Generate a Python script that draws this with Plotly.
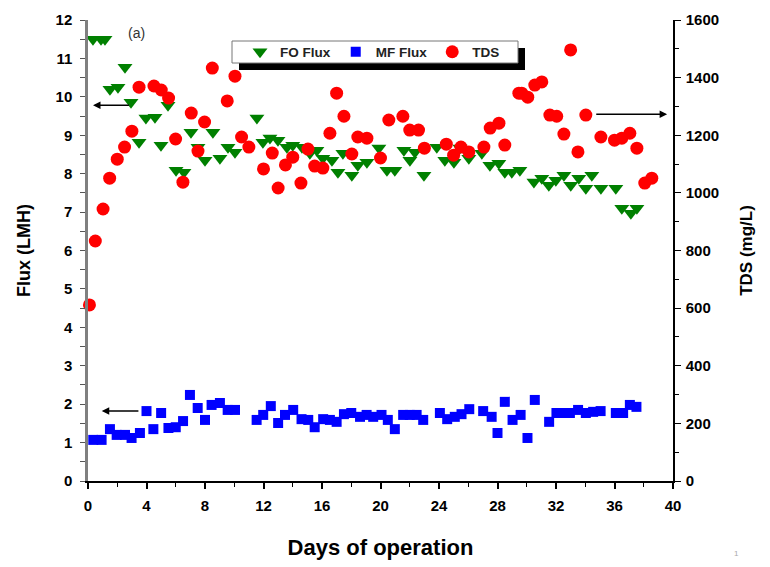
import plotly.graph_objects as go

# ---- data ----
fo_days = [0.34, 0.89, 1.16, 1.5, 2.05, 2.53, 2.94, 3.49, 3.96, 4.58, 4.99, 5.47, 6.02, 6.56,
           7.04, 7.52, 8.0, 8.54, 9.02, 9.57, 10.05, 11.55, 11.96, 12.44, 12.99, 13.6, 14.0,
           14.63, 15.17, 15.65, 16.06, 16.68, 17.09, 17.43, 18.04, 18.45, 19.07, 19.89, 20.44,
           20.98, 21.6, 22.01, 22.35, 22.97, 23.85, 24.4, 25.02, 25.43, 26.04, 26.93, 27.48,
           28.09, 28.5, 28.98, 29.53, 30.49, 31.03, 31.51, 31.99, 32.54, 33.01, 33.56, 34.04,
           34.45, 35.07, 36.09, 36.5, 37.12, 37.53]
fo_flux = [11.5, 11.5, 11.5, 10.2, 10.25, 10.77, 9.86, 8.82, 9.45, 9.47, 8.74, 9.78, 8.09, 8.04,
           9.08, 8.69, 8.35, 9.08, 8.4, 8.69, 8.56, 9.45, 8.82, 8.93, 8.87, 8.69, 8.74,
           8.69, 8.53, 8.61, 8.4, 8.35, 8.04, 8.53, 7.96, 8.22, 8.3, 8.67, 8.09,
           8.09, 8.61, 8.35, 8.56, 7.96, 8.69, 8.35, 8.3, 8.67, 8.4, 8.53, 8.22,
           8.27, 8.04, 8.04, 8.09, 7.78, 7.88, 7.7, 7.83, 7.96, 7.7, 7.88, 7.62,
           7.96, 7.62, 7.62, 7.1, 6.97, 7.1]

mf_days = [0.36, 0.93, 1.5, 1.96, 2.53, 2.98, 3.55, 4.0, 4.47, 5.0, 5.5, 6.0, 6.5, 6.97, 7.5,
           8.0, 8.45, 9.02, 9.55, 10.05, 11.53, 11.98, 12.5, 13.0, 13.47, 14.03, 14.6, 15.06,
           15.5, 16.08, 16.54, 17.0, 17.5, 18.0, 18.6, 19.05, 19.5, 20.07, 20.5, 20.98, 21.55,
           22.0, 22.47, 22.92, 24.06, 24.56, 25.08, 25.54, 26.07, 27.02, 27.6, 28.0, 28.5,
           29.03, 29.58, 30.05, 30.55, 31.53, 32.03, 32.49, 32.95, 33.51, 34.04, 34.54, 35.05,
           36.09, 36.59, 37.05, 37.5]
mf_flux = [1.07, 1.07, 1.35, 1.2, 1.2, 1.12, 1.25, 1.82, 1.35, 1.77, 1.38, 1.4, 1.56, 2.24, 1.9,
           1.59, 1.98, 2.03, 1.85, 1.85, 1.59, 1.72, 1.95, 1.51, 1.72, 1.85, 1.61, 1.59,
           1.4, 1.61, 1.59, 1.54, 1.74, 1.77, 1.67, 1.72, 1.67, 1.72, 1.59, 1.35, 1.72,
           1.72, 1.72, 1.59, 1.77, 1.61, 1.67, 1.74, 1.87, 1.82, 1.67, 1.25, 2.06,
           1.59, 1.72, 1.12, 2.11, 1.54, 1.77, 1.77, 1.77, 1.85, 1.77, 1.8, 1.82,
           1.77, 1.77, 1.98, 1.93]

tds_days = [0.1, 0.5, 1.03, 1.48, 2.0, 2.5, 3.0, 3.49, 4.51, 5.01, 5.51, 5.99, 6.49, 7.06, 7.52,
            7.97, 8.5, 9.52, 10.05, 10.5, 11.0, 12.0, 12.6, 13.0, 13.5, 14.0, 14.56, 15.04,
            15.5, 16.06, 16.54, 17.0, 17.5, 18.04, 18.45, 19.07, 20.0, 20.57, 21.53, 22.0,
            22.6, 23.0, 24.5, 25.0, 25.5, 26.04, 27.07, 27.5, 28.1, 28.5, 29.46, 29.66, 30.07,
            30.55, 31.03, 31.58, 32.05, 32.54, 33.0, 33.5, 34.04, 35.07, 36.0, 36.5, 37.05,
            37.53, 38.07, 38.55]
tds_vals = [611, 833, 944, 1051, 1117, 1159, 1214, 1367, 1371, 1357, 1329, 1187, 1037, 1277, 1145,
            1246, 1433, 1319, 1405, 1194, 1159, 1083, 1138, 1017, 1097, 1124, 1034, 1152,
            1093, 1086, 1207, 1346, 1266, 1135, 1194, 1190, 1121, 1253, 1266, 1218,
            1218, 1155, 1169, 1131, 1159, 1142, 1159, 1225, 1242, 1166, 1346, 1346, 1332,
            1374, 1385, 1270, 1266, 1204, 1496, 1142, 1270, 1194, 1183, 1190, 1207,
            1155, 1034, 1051]

x_ticks = [0, 4, 8, 12, 16, 20, 24, 28, 32, 36, 40]

FONT = "Liberation Sans, Arial, sans-serif"
tickfont = dict(family=FONT, size=15, color="black", weight="bold")

# page body has an 8px margin; plot area on screen: x 88..673, y 20..481
PL, PR, PT, PB = 88, 673, 20, 481


def px(x):
    return (x - PL) / (PR - PL)


def py(y):
    return (PB - y) / (PB - PT)


fig = go.Figure()
fig.add_trace(go.Scatter(x=fo_days, y=fo_flux, mode="markers", name="FO Flux",
                         marker=dict(symbol="triangle-down", size=13, color="#008000"),
                         cliponaxis=False))
fig.add_trace(go.Scatter(x=mf_days, y=mf_flux, mode="markers", name="MF Flux",
                         marker=dict(symbol="square", size=10, color="#0000ff"),
                         cliponaxis=False))
fig.add_trace(go.Scatter(x=tds_days, y=tds_vals, mode="markers", name="TDS", yaxis="y2",
                         marker=dict(symbol="circle", size=13, color="#ff0000"),
                         cliponaxis=False))

fig.update_layout(
    width=770, height=567,
    margin=dict(l=PL - 8, r=770 - (PR - 8), t=PT - 8, b=567 - (PB - 8), autoexpand=False),
    paper_bgcolor="white", plot_bgcolor="white",
    font=dict(family=FONT, color="black"),
    xaxis=dict(range=[0, 40], tickvals=x_ticks, showgrid=False, zeroline=False,
               showline=True, linecolor="black", linewidth=1.5, automargin=False,
               ticks="outside", ticklen=6, tickwidth=1.5, tickcolor="black",
               minor=dict(dtick=2, ticks="outside", ticklen=4, tickcolor="black", tickwidth=1),
               tickfont=tickfont, ticklabelstandoff=4,
               title=dict(text="Days of operation",
                          font=dict(family=FONT, size=22, color="black", weight="bold"),
                          standoff=27)),
    yaxis=dict(range=[0, 12], dtick=1, showgrid=False, zeroline=False,
               showline=True, linecolor="#808080", linewidth=2.5, automargin=False,
               ticks="outside", ticklen=5, tickwidth=1.2, tickcolor="#555555",
               minor=dict(dtick=0.5, ticks="outside", ticklen=5, tickcolor="#555555", tickwidth=1),
               tickfont=tickfont, ticklabelstandoff=5,
               title=dict(text="Flux (LMH)",
                          font=dict(family=FONT, size=18, color="black", weight="bold"),
                          standoff=21)),
    yaxis2=dict(range=[0, 1600], dtick=200, overlaying="y", side="right", showgrid=False,
                zeroline=False, showline=True, linecolor="black", linewidth=1.5,
                automargin=False,
                ticks="outside", ticklen=6, tickwidth=1.2, tickcolor="black",
                minor=dict(dtick=100, ticks="outside", ticklen=4, tickcolor="black", tickwidth=1),
                tickfont=tickfont, ticklabelstandoff=2,
                title=dict(text="TDS (mg/L)",
                           font=dict(family=FONT, size=17, color="black", weight="bold"),
                           standoff=22)),
    legend=dict(orientation="h", x=px(240), y=py(52), xanchor="left", yanchor="middle",
                bgcolor="rgba(0,0,0,0)", borderwidth=0,
                font=dict(family=FONT, size=13.5, color="#222222", weight="bold")),
    showlegend=True,
)

# legend box with drop shadow
fig.add_shape(type="rect", xref="paper", yref="paper",
              x0=px(239), x1=px(525), y0=py(70), y1=py(48),
              fillcolor="black", line=dict(width=0), layer="above")
fig.add_shape(type="rect", xref="paper", yref="paper",
              x0=px(232), x1=px(518), y0=py(63), y1=py(41),
              fillcolor="white", line=dict(width=1, color="#777777"), layer="above")

arrow = dict(showarrow=True, arrowhead=2, arrowsize=1, arrowwidth=1.5, arrowcolor="black",
             text="", axref="x", ayref="y")
fig.add_annotation(x=0.34, y=9.78, ax=2.9, ay=9.78, xref="x", yref="y", **arrow)
fig.add_annotation(x=0.94, y=1.82, ax=3.55, ay=1.82, xref="x", yref="y", **arrow)
fig.add_annotation(x=39.6, y=1273, ax=34.65, ay=1273, xref="x", yref="y2",
                   showarrow=True, arrowhead=2, arrowsize=1, arrowwidth=1.5,
                   arrowcolor="black", text="", axref="x", ayref="y2")
fig.add_annotation(x=3.35, y=11.66, xref="x", yref="y", text="(a)", showarrow=False,
                   font=dict(family=FONT, size=14, color="#333333"))
fig.add_annotation(x=px(741), y=py(560), xref="paper", yref="paper",
                   text="1", showarrow=False, font=dict(family=FONT, size=8, color="#aaaaaa"))

fig.write_html("out.html")
